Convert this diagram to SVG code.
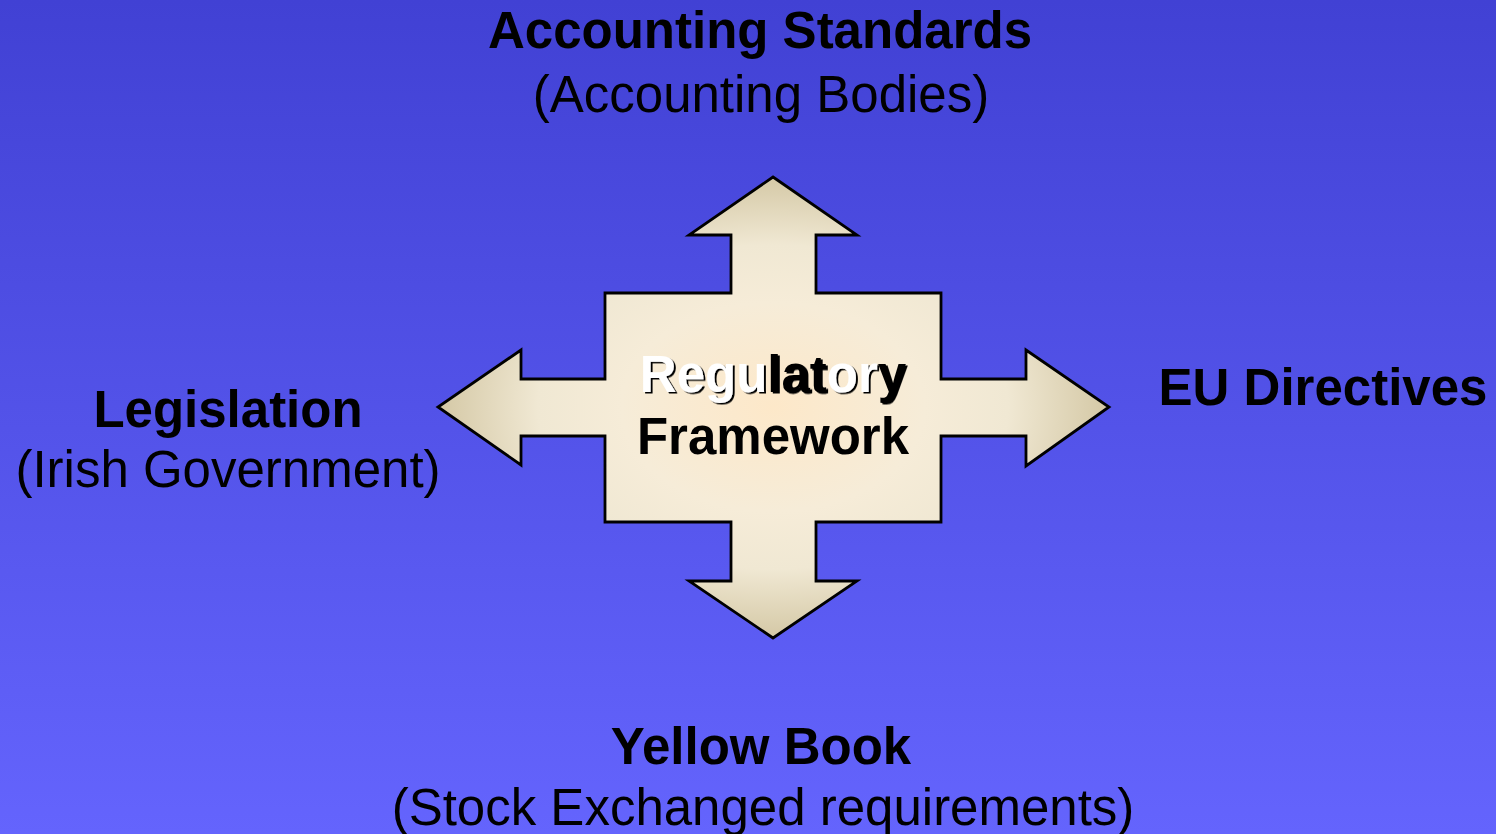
<svg xmlns="http://www.w3.org/2000/svg" width="1496" height="834" viewBox="0 0 1496 834">
  <defs>
    <linearGradient id="bg" x1="0" y1="0" x2="0" y2="1">
      <stop offset="0" stop-color="#4141d4"/>
      <stop offset="1" stop-color="#6464fd"/>
    </linearGradient>
    <radialGradient id="crossFill" gradientUnits="userSpaceOnUse" cx="773" cy="407" r="336" gradientTransform="translate(773 407) scale(1 0.69) translate(-773 -407)">
      <stop offset="0" stop-color="#fde8c9"/>
      <stop offset="0.45" stop-color="#f6ecd8"/>
      <stop offset="0.7" stop-color="#f0e8d3"/>
      <stop offset="1" stop-color="#d4c8a5"/>
    </radialGradient>
    <filter id="shadow" x="-5%" y="-20%" width="110%" height="140%">
      <feDropShadow dx="2" dy="1.5" stdDeviation="0" flood-color="#000" flood-opacity="1"/>
    </filter>
    <style>
      .bold { font-family: "Liberation Sans", Arial, sans-serif; font-weight: bold; font-size: 51px; fill: #000; text-anchor: middle; }
      .reg { font-family: "Liberation Sans", Arial, sans-serif; font-size: 51px; fill: #000; text-anchor: middle; }
    </style>
  </defs>
  <rect x="0" y="0" width="1496" height="834" fill="url(#bg)"/>

  <g id="connectors"></g>

  <g id="regulatory-framework">
    <path d="M773,177 L857,235 L816,235 L816,293 L941,293 L941,379 L1026,379 L1026,350 L1109,407 L1026,466 L1026,436 L941,436 L941,522 L816,522 L816,581 L857,581 L773,638 L689,581 L731,581 L731,522 L605,522 L605,436 L521,436 L521,465 L438,407 L521,350 L521,379 L605,379 L605,293 L731,293 L731,235 L689,235 Z" fill="url(#crossFill)" stroke="#000" stroke-width="2.8" stroke-linejoin="miter"/>
    <text class="bold" x="773" y="392" filter="url(#shadow)"><tspan fill="#fff">Regu</tspan><tspan>lat</tspan><tspan fill="#fff">or</tspan><tspan>y</tspan></text>
    <text class="bold" x="773" y="454">Framework</text>
  </g>

  <g id="accounting-standards">
    <text class="bold" x="760" y="48">Accounting Standards</text>
    <text class="reg" x="761" y="112">(Accounting Bodies)</text>
  </g>

  <g id="legislation">
    <text class="bold" x="228" y="427">Legislation</text>
    <text class="reg" x="228" y="487">(Irish Government)</text>
  </g>

  <g id="eu-directives">
    <text class="bold" x="1323" y="405">EU Directives</text>
  </g>

  <g id="yellow-book">
    <text class="bold" x="761" y="764">Yellow Book</text>
    <text class="reg" x="763" y="825">(Stock Exchanged requirements)</text>
  </g>
</svg>
